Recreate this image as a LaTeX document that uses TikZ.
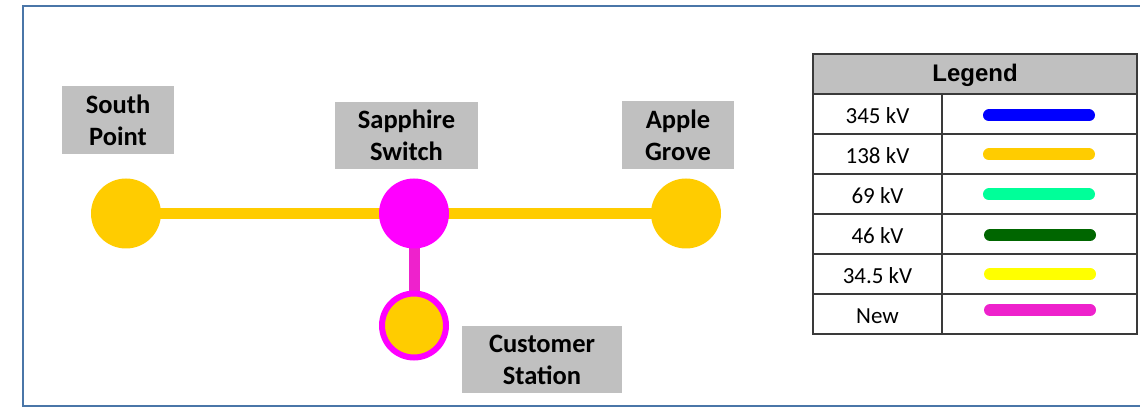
\documentclass[tikz,border=0pt]{standalone}
\usepackage{fontspec}
\setmainfont{Carlito}
\newfontfamily\arialfont{Liberation Sans}
\usetikzlibrary{backgrounds}
\definecolor{framec}{HTML}{4A76A8}
\definecolor{boxgray}{HTML}{C0C0C0}
\definecolor{kvorange}{HTML}{FFCC00}
\definecolor{busmag}{HTML}{FF00FF}
\definecolor{newmag}{HTML}{EE22CC}
\definecolor{kvblue}{HTML}{0000FF}
\definecolor{kvspring}{HTML}{00FF99}
\definecolor{kvdkgreen}{HTML}{006600}
\definecolor{kvyellow}{HTML}{FFFF00}
\definecolor{tabline}{HTML}{3A3A3A}
\begin{document}
\begin{tikzpicture}[x=1pt,y=-1pt,
  lbl/.style={fill=boxgray, inner sep=0pt, align=center,
    font=\fontsize{26.5}{32}\selectfont\bfseries},
  bus/.style={circle, inner sep=0pt, minimum size=70},
  link/.style={line width=11},
  swatch/.style={line width=12, line cap=round},
  rowtxt/.style={inner sep=0pt, font=\fontsize{23}{27}\selectfont},
  tab/.style={draw=tabline, line width=1.4}]
\useasboundingbox (0,0) rectangle (1140,411);
% frame
\draw[framec, line width=2.2] (23,6) rectangle (1150,406);
% labels
\node[lbl, minimum width=112, minimum height=68] (splbl) at (118,120) {South\\Point};
\node[lbl, minimum width=143, minimum height=67] (swlbl) at (406.5,135.5) {Sapphire\\Switch};
\node[lbl, minimum width=112, minimum height=68] (aglbl) at (678,135) {Apple\\Grove};
\node[lbl, minimum width=160, minimum height=67] (cslbl) at (542,359.5) {Customer\\Station};
% buses
\node[bus, fill=kvorange] (sp) at (126,213.5) {};
\node[bus, fill=busmag] (sw) at (414,213.5) {};
\node[bus, fill=kvorange] (ag) at (686,213.5) {};
\node[circle, inner sep=0pt, minimum size=64, fill=kvorange, draw=busmag, line width=6] (cs) at (414,325.5) {};
\begin{scope}[on background layer]
\draw[link, kvorange] (sp.center) -- (sw.center);
\draw[link, kvorange] (sw.center) -- (ag.center);
\draw[link, newmag] (sw.center) -- (cs.center);
\end{scope}
% legend
\fill[boxgray] (813,54) rectangle (1137,94);
\node[inner sep=0pt, font=\arialfont\bfseries\fontsize{24}{28}\selectfont] (leghead) at (975,75) {Legend};
\draw[tab] (813,54) rectangle (1137,334);
\foreach \yy in {94,134,174,214,254,294} \draw[tab] (813,\yy) -- (1137,\yy);
\draw[tab] (942,94) -- (942,334);
\node[rowtxt] (r1) at (877.5,116) {345 kV};
\node[rowtxt] (r2) at (877.5,156) {138 kV};
\node[rowtxt] (r3) at (877.5,196) {69 kV};
\node[rowtxt] (r4) at (877.5,236) {46 kV};
\node[rowtxt] (r5) at (877.5,276) {34.5 kV};
\node[rowtxt] (r6) at (877.5,316) {New};
\draw[swatch, kvblue] (989,115.5) -- (1089,115.5);
\draw[swatch, kvorange] (989,154.5) -- (1089,154.5);
\draw[swatch, kvspring] (989,194.5) -- (1089,194.5);
\draw[swatch, kvdkgreen] (990,235) -- (1090,235);
\draw[swatch, kvyellow] (990,274) -- (1090,274);
\draw[swatch, newmag] (990,310) -- (1090,310);
\end{tikzpicture}
\end{document}
